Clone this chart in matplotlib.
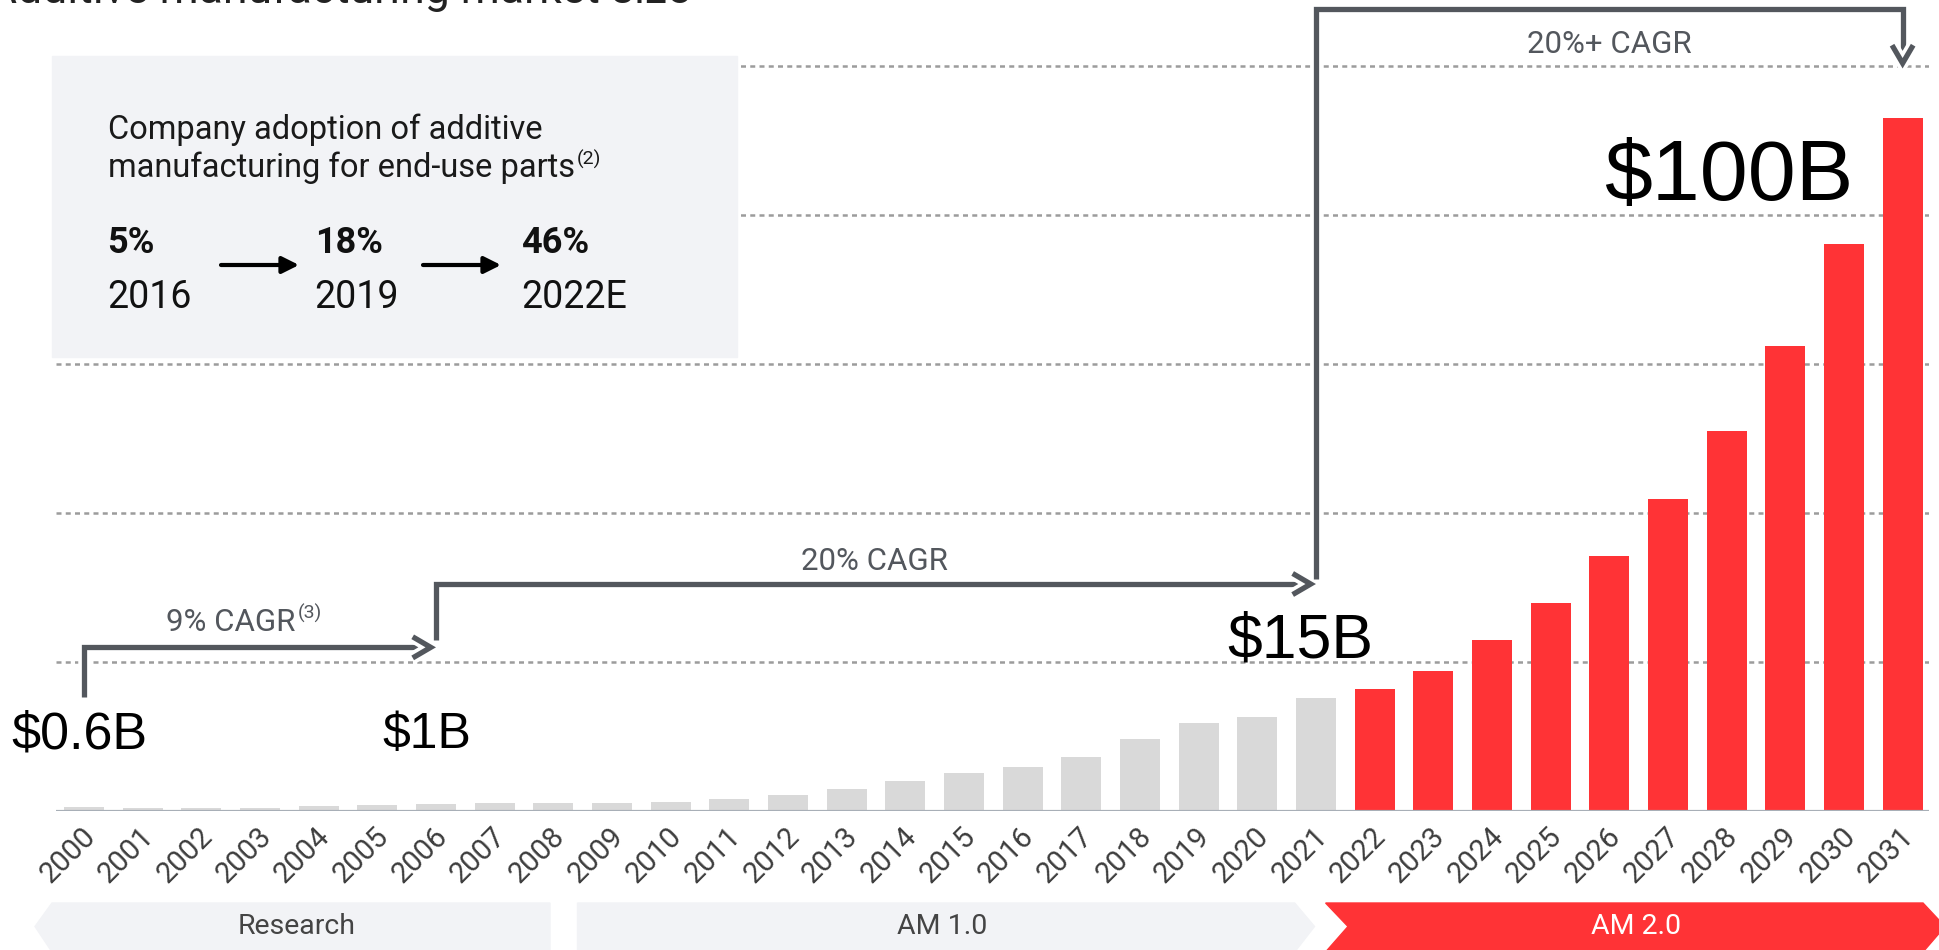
import matplotlib
matplotlib.use("Agg")
import matplotlib.pyplot as plt
from matplotlib.patches import Rectangle, Polygon, FancyArrowPatch, ArrowStyle
from matplotlib.path import Path
import matplotlib.patheffects as pe

# market size by year ($B)
years = list(range(2000, 2032))
market = [0.5, 0.36, 0.32, 0.36, 0.58, 0.71, 0.9, 1.03, 1.03, 0.94,
          1.18, 1.52, 2.1, 2.86, 3.93, 5.0, 5.9, 7.15, 9.6, 11.7,
          12.6, 15.1, 16.3, 18.7, 22.9, 27.9, 34.2, 41.8, 51.0, 62.3,
          76.1, 93.0]
first_forecast = 2022
grid_levels = [20, 40, 60, 80, 100]

adoption_pct = ["5%", "18%", "46%"]
adoption_year = ["2016", "2019", "2022E"]

phases = ["Research", "AM 1.0", "AM 2.0"]
value_labels = ["$0.6B", "$1B", "$15B", "$100B"]
cagr_labels = ["9% CAGR", "20% CAGR", "20%+ CAGR"]

RED = "#ff3336"
GREY_BAR = "#d9d9d9"
PANEL = "#f2f3f6"
DARK = "#53575d"

W, H = 1939, 950
fig = plt.figure(figsize=(W / 100, H / 100), dpi=100)
plt.rcParams['font.family'] = ['Roboto', 'DejaVu Sans']


def fx(px):
    return px / W


def fy(py):
    return 1 - py / H


# main axes: baseline at y=810.5px, 7.45px per $B, bar pitch 58.66px
base_py = 810.5
ppu = 7.45
ax = fig.add_axes([fx(55.6), fy(base_py), fx(1929) - fx(55.6), 110 * ppu / H])
ax.set_xlim(-0.484, 31.45)
ax.set_ylim(0, 110)
ax.axis("off")

xs = list(range(len(years)))
colors = [RED if y >= first_forecast else GREY_BAR for y in years]
ax.bar(xs, market, width=0.68, color=colors, zorder=2)

for lv in grid_levels:
    ax.axhline(lv, color="#9c9c9c", lw=1.8, ls=(0, (2, 1.7)), zorder=0.5)
ax.axhline(0, color="#a8afb7", lw=2.3, zorder=3)

# year labels
for x, y in zip(xs, years):
    ax.text(x + 0.12, -2.9, str(y), rotation=45, rotation_mode="anchor",
            ha="right", va="center", fontsize=21, color="#3d3d3d")

# brackets with arrows (data coords: bar index, $B)
brackets = [
    [(0, 15.2), (0, 21.9), (6, 21.9)],
    [(6, 22.9), (6, 30.4), (21, 30.4)],
    [(21, 31.1), (21, 107.6), (31, 107.6), (31, 99.6)],
]
for pts in brackets:
    arr = FancyArrowPatch(path=Path(pts),
                          arrowstyle=ArrowStyle("->", head_length=0.65, head_width=0.38),
                          mutation_scale=20, color=DARK, lw=3.8,
                          joinstyle="miter", capstyle="butt",
                          transform=ax.transData, zorder=4, clip_on=False)
    arr.set_path_effects([pe.Stroke(linewidth=9, foreground="white"), pe.Normal()])
    ax.add_patch(arr)

# title (cut off at the top in the source)
fig.text(fx(-12), fy(3), "Additive manufacturing market size", fontsize=32,
         color="#222222", va="baseline", ha="left")

# info panel
fig.patches.append(Rectangle((fx(52), fy(357)), fx(737) - fx(52), fy(55.6) - fy(357),
                             transform=fig.transFigure, color=PANEL, zorder=1))
fig.text(fx(107.6), fy(139), "Company adoption of additive", fontsize=23.5,
         color="#1a1a1a", va="baseline")
t_parts = fig.text(fx(107.6), fy(176.7), "manufacturing for end-use parts", fontsize=23.5,
                   color="#1a1a1a", va="baseline")

pct_x = [107.6, 314.6, 521]
for px, p, yr in zip(pct_x, adoption_pct, adoption_year):
    fig.text(fx(px), fy(253), p, fontsize=26, fontweight="bold", color="#111111",
             va="baseline")
    fig.text(fx(px), fy(308), yr, fontsize=27, color="#111111", va="baseline")

for x0, x1 in [(221, 299), (423, 501)]:
    fig.patches.append(FancyArrowPatch((fx(x0), fy(265)), (fx(x1), fy(265)),
                                       transform=fig.transFigure,
                                       arrowstyle=ArrowStyle("-|>", head_length=0.5, head_width=0.25),
                                       mutation_scale=20, color="black", lw=3,
                                       shrinkA=0, shrinkB=0, zorder=2))

# CAGR labels
t_cagr1 = fig.text(fx(166), fy(631), cagr_labels[0], fontsize=22.5, color=DARK, va="baseline")
fig.text(fx(801), fy(569.5), cagr_labels[1], fontsize=22.5, color=DARK, va="baseline")
fig.text(fx(1527), fy(53), cagr_labels[2], fontsize=22.5, color=DARK, va="baseline")

# value callouts
val_pos = [(11, 748, 37.5), (382, 748, 36), (1227, 657, 45), (1604, 200, 62)]
for (px, py, fs), lab in zip(val_pos, value_labels):
    fig.text(fx(px), fy(py), lab, fontsize=fs, family="Liberation Sans",
             color="black", va="baseline")

# superscript footnote marks
fig.canvas.draw()
r = fig.canvas.get_renderer()
for t, mark in [(t_parts, "(2)"), (t_cagr1, "(3)")]:
    bb = t.get_window_extent(r)
    x_pix = bb.x1 + 2
    y_base = t.get_position()[1] * H
    fig.text(x_pix / W, (y_base + 12) / H, mark, fontsize=14, color=t.get_color(),
             va="baseline")

# phase bands at the bottom
band_y0, band_mid, band_y1 = 903, 926.5, 952
bands = [
    [(52, band_y0), (550, band_y0), (550, band_y1), (52, band_y1), (35, band_mid)],
    [(577.5, band_y0), (1294.7, band_y0), (1314.5, band_mid), (1294.7, band_y1), (577.5, band_y1)],
    [(1325.6, band_y0), (1923, band_y0), (1945, band_mid), (1923, band_y1),
     (1325.6, band_y1), (1348, band_mid)],
]
band_cols = [PANEL, PANEL, RED]
band_text = ["#444444", "#444444", "white"]
band_cx = [297, 942, 1636]
for pts, c, tc, cx, lab in zip(bands, band_cols, band_text, band_cx, phases):
    fig.patches.append(Polygon([(fx(a), fy(b)) for a, b in pts], closed=True,
                               transform=fig.transFigure, color=c, zorder=1))
    fig.text(fx(cx), fy(band_mid), lab, fontsize=20.5, color=tc, ha="center", va="center")

fig.savefig("out.png", dpi=100)
